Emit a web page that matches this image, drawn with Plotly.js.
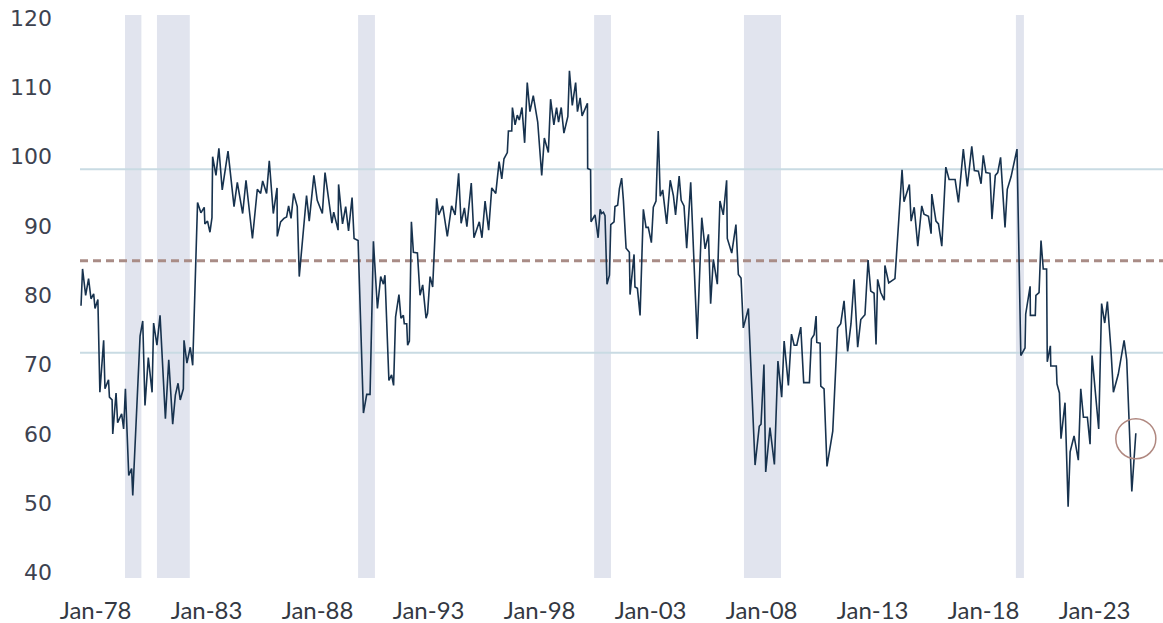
<!DOCTYPE html>
<html>
<head>
<meta charset="utf-8">
<script src="https://cdn.plot.ly/plotly-3.0.1.min.js"></script>
<style>html,body{margin:0;padding:0;background:#fff;}#chart{width:1163px;height:623px;}</style>
</head>
<body>
<div id="chart"></div>
<script>
// Sampled points of the index line (decimal year, value)
const years = [
1978.02,1978.09,1978.23,1978.36,1978.47,1978.59,1978.65,1978.78,1978.87,1979.04,1979.10,1979.26,1979.30,1979.42,1979.45,1979.60,1979.67,1979.85,1979.94,
1980.02,1980.17,1980.30,1980.35,1980.68,1980.80,1980.90,1981.05,1981.22,1981.29,1981.44,1981.58,1981.82,1981.97,1982.15,1982.27,1982.39,1982.49,1982.63,1982.66,1982.79,1982.94,
1983.05,1983.27,1983.42,1983.57,1983.60,1983.72,1983.83,1983.92,1983.95,1984.10,1984.23,1984.38,1984.64,1984.91,1985.06,1985.30,1985.45,1985.74,1985.96,1986.11,1986.20,1986.38,1986.50,1986.68,1986.85,1986.86,
1987.01,1987.16,1987.28,1987.37,1987.48,1987.60,1987.76,1987.85,1988.18,1988.30,1988.51,1988.66,1988.89,1989.01,1989.19,1989.32,1989.40,1989.50,1989.60,1989.62,1989.80,1989.94,
1990.07,1990.23,1990.32,1990.50,1990.74,1990.89,1991.04,1991.19,1991.37,1991.52,1991.64,1991.71,1991.89,1992.01,1992.10,1992.19,1992.34,1992.43,1992.54,1992.58,1992.69,1992.73,1992.81,1992.90,1992.99,
1993.17,1993.29,1993.41,1993.56,1993.63,1993.74,1993.86,1994.04,1994.13,1994.31,1994.52,1994.71,1994.87,1995.03,1995.14,1995.29,1995.40,1995.60,1995.72,1995.96,1996.08,1996.22,1996.38,1996.52,1996.70,1996.85,
1996.97,1997.07,1997.22,1997.27,1997.42,1997.45,1997.57,1997.67,1997.76,1997.88,1998.00,1998.12,1998.24,1998.39,1998.59,1998.77,1998.89,1999.07,1999.17,1999.32,1999.44,1999.53,1999.65,1999.77,1999.95,
2000.02,2000.15,2000.30,2000.38,2000.50,2000.59,2000.83,2000.84,2000.97,2000.99,2001.17,2001.31,2001.40,2001.47,2001.55,2001.62,2001.71,2001.82,2001.88,2002.03,2002.07,2002.19,2002.27,2002.37,2002.45,2002.57,2002.72,2002.75,2002.93,2002.97,
2003.08,2003.20,2003.35,2003.47,2003.57,2003.71,2003.80,2003.92,2004.02,2004.11,2004.22,2004.40,2004.56,2004.70,2004.80,2004.96,2005.05,2005.18,2005.30,2005.48,2005.77,2005.98,2006.13,2006.28,2006.38,2006.50,2006.68,2006.80,2006.95,
2007.10,2007.13,2007.33,2007.52,2007.63,2007.75,2007.85,2008.08,2008.38,2008.57,2008.65,2008.78,2008.86,2009.05,2009.25,2009.41,2009.58,2009.69,2009.88,
2010.02,2010.14,2010.26,2010.44,2010.57,2010.83,2010.92,2011.04,2011.13,2011.16,2011.31,2011.34,2011.49,2011.62,2011.88,2012.10,2012.24,2012.39,2012.55,2012.70,2012.84,
2013.00,2013.14,2013.33,2013.47,2013.59,2013.74,2013.83,2013.90,2014.04,2014.20,2014.23,2014.40,2014.68,2014.82,2015.00,2015.09,2015.33,2015.41,2015.55,2015.71,2015.89,2015.99,
2016.11,2016.19,2016.31,2016.34,2016.53,2016.64,2016.79,2016.97,2017.12,2017.39,2017.54,2017.76,2017.94,2018.14,2018.26,2018.44,2018.56,2018.66,2018.78,2018.96,
2019.05,2019.20,2019.31,2019.44,2019.64,2019.74,2019.91,2020.18,2020.35,2020.54,2020.57,2020.77,2020.78,2021.00,2021.03,2021.17,2021.26,2021.36,2021.51,2021.54,2021.68,2021.70,2021.95,2021.98,
2022.09,2022.16,2022.34,2022.48,2022.57,2022.75,2022.94,2023.05,2023.17,2023.35,2023.47,2023.56,2023.86,2023.99,2024.13,2024.25,2024.41,2024.52,2024.74,2024.85,2025.00,2025.12,2025.35,2025.53
];
const sentiment = [
78.5,83.8,80.0,82.4,79.5,80.2,78.1,79.4,66.0,73.5,66.5,67.8,65.3,64.9,60.0,65.9,61.6,62.9,60.7,
66.5,54.0,55.0,51.1,74.1,76.3,64.1,71.0,66.0,76.0,72.8,77.1,62.2,70.7,61.4,65.6,67.3,64.9,66.5,73.5,70.2,72.5,
69.9,93.4,91.9,92.7,90.3,90.7,89.1,91.2,100.0,97.3,101.2,95.2,100.8,92.8,96.3,91.8,96.6,88.2,95.3,94.7,96.5,94.7,99.4,91.8,95.5,88.5,
90.6,91.1,91.3,92.9,91.1,94.7,92.8,82.7,94.4,90.7,97.3,93.7,91.8,97.7,93.2,90.4,92.0,90.8,89.4,96.0,90.3,92.8,
89.3,94.1,88.2,87.9,63.0,65.7,65.7,87.8,78.1,82.7,81.6,82.9,67.7,68.5,67.0,76.9,80.1,76.7,77.1,75.9,75.9,72.8,73.4,90.6,86.2,
86.1,80.0,81.5,76.7,77.4,82.7,81.2,94.0,91.6,92.9,88.5,92.9,91.6,97.6,90.4,92.6,89.9,96.2,88.3,90.6,88.3,93.6,89.4,95.5,94.7,99.3,
96.8,99.7,100.6,103.7,103.7,107.1,104.6,106.0,105.3,107.1,102.0,110.7,106.5,108.8,105.0,97.3,102.7,100.6,108.3,104.6,107.1,105.0,107.1,103.4,105.8,
112.4,107.4,110.7,106.5,108.5,105.9,107.7,98.3,98.1,90.6,91.6,88.3,92.4,91.8,92.0,91.5,81.6,82.9,90.2,90.6,92.8,93.0,95.4,96.9,93.7,86.8,86.2,80.1,85.9,81.2,
81.0,77.1,92.4,89.8,89.8,87.6,92.7,93.6,103.7,94.3,95.2,90.3,96.6,94.4,91.6,97.2,93.7,92.9,86.8,96.3,73.7,91.2,86.7,88.8,78.8,85.2,81.6,93.6,91.6,
96.6,88.2,86.1,90.2,83.0,82.5,75.3,78.1,55.5,61.1,61.4,70.0,54.5,60.9,55.6,70.5,65.3,73.4,67.0,
74.4,72.8,72.8,75.4,67.4,67.4,73.7,74.3,77.0,73.2,73.1,66.9,66.5,55.3,60.4,75.3,75.9,79.2,71.9,75.9,82.3,
72.5,76.5,77.2,85.1,80.6,80.3,72.9,82.3,80.4,79.3,84.3,81.8,82.4,89.2,98.1,93.5,96.0,90.7,92.7,87.1,92.9,91.7,
91.5,91.4,88.9,94.6,90.7,90.3,87.1,98.5,96.7,96.7,93.4,101.1,95.7,101.5,98.0,97.9,96.1,100.2,97.7,97.6,
91.0,97.3,97.7,99.9,89.8,95.3,97.1,101.1,71.3,72.4,77.3,81.3,77.1,77.1,80.0,80.4,87.9,83.8,83.8,70.4,72.7,69.8,69.8,67.2,
65.9,59.3,64.5,49.5,57.4,59.7,56.2,66.5,62.4,62.4,58.5,71.3,60.7,78.8,76.0,79.1,72.1,66.0,68.6,70.5,73.5,70.7,51.7,60.1
];

// Recession periods (shaded)
const recessionStart = [1980.00, 1981.44, 1990.50, 2001.13, 2007.88, 2020.13];
const recessionEnd   = [1980.74, 1982.92, 1991.26, 2001.89, 2009.55, 2020.49];

// Reference levels
const averageLevel = 85.0;
const upperLevel = 98.2;
const lowerLevel = 71.7;

// Highlighted latest reading
const highlightYear = 2025.53;
const highlightValue = 59.3;

// Axis ticks
const yTicks = [40, 50, 60, 70, 80, 90, 100, 110, 120];

function yrToDate(y) {
  const yr = Math.floor(y);
  const frac = y - yr;
  const s = Date.UTC(yr, 0, 1), e = Date.UTC(yr + 1, 0, 1);
  return new Date(s + frac * (e - s)).toISOString().slice(0, 10);
}

const xDates = years.map(yrToDate);

const shapes = [];
for (let i = 0; i < recessionStart.length; i++) {
  shapes.push({type: 'rect', xref: 'x', yref: 'paper', x0: yrToDate(recessionStart[i]), x1: yrToDate(recessionEnd[i]),
    y0: 0, y1: 1, fillcolor: '#e1e4ee', line: {width: 0}, layer: 'below'});
}
[upperLevel, lowerLevel].forEach(v => shapes.push({type: 'line', xref: 'paper', yref: 'y', x0: 0, x1: 1, y0: v, y1: v,
  line: {color: '#c9dbe3', width: 2}, layer: 'below'}));
shapes.push({type: 'line', xref: 'paper', yref: 'y', x0: 0, x1: 1, y0: averageLevel, y1: averageLevel,
  line: {color: '#a98c86', width: 3, dash: '8px,5px'}, layer: 'below'});
shapes.push({type: 'circle', xref: 'x', yref: 'y', xsizemode: 'pixel', ysizemode: 'pixel',
  xanchor: yrToDate(highlightYear), yanchor: highlightValue, x0: -20, x1: 20, y0: -20, y1: 20,
  line: {color: '#b08880', width: 1.5}, fillcolor: 'rgba(0,0,0,0)', layer: 'above'});

const trace = {x: xDates, y: sentiment, type: 'scatter', mode: 'lines',
  line: {color: '#17324e', width: 1.6}, hoverinfo: 'x+y'};

const layout = {
  width: 1163, height: 623,
  margin: {l: 80, r: 0, t: 15, b: 45},
  paper_bgcolor: '#ffffff', plot_bgcolor: '#ffffff',
  showlegend: false,
  xaxis: {type: 'date', range: ['1977-12-22', '2026-10-03'], tick0: '1978-01-01', dtick: 'M60',
    tickformat: '%b-%y', showgrid: false, zeroline: false, showline: false, ticks: '',
    ticklabelstandoff: 16, ticklabelshift: 15, tickfont: {family: 'Lato, sans-serif', size: 24, color: '#333842'}},
  yaxis: {range: [39.2, 120.45], tickvals: yTicks, showgrid: false, zeroline: false, showline: false, ticks: '',
    ticklabelstandoff: 27, tickfont: {family: 'DejaVu Sans, sans-serif', size: 22, color: '#3d4250'}},
  shapes: shapes
};

Plotly.newPlot('chart', [trace], layout, {displayModeBar: false, staticPlot: true});
</script>
</body>
</html>
